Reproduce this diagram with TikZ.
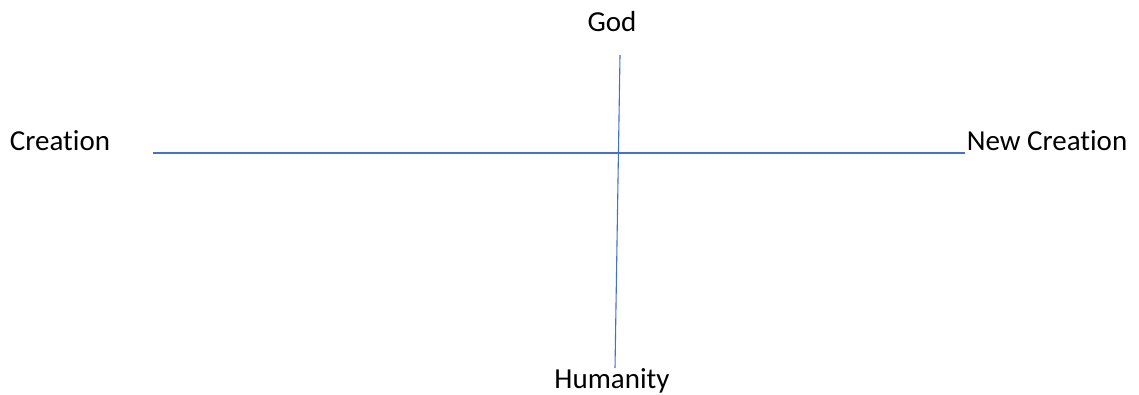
\documentclass[tikz,border=0pt]{standalone}
\usepackage{fontspec}
\setmainfont[Ligatures=NoCommon]{Carlito}
\definecolor{axisblue}{HTML}{4472C4}
\begin{document}
\begin{tikzpicture}[x=1pt,y=-1pt,
  lbl/.style={font=\fontsize{29}{34}\selectfont, inner sep=0pt, anchor=base},
  axis/.style={draw=axisblue, line width=1.1pt}]
\useasboundingbox (0,0) rectangle (1139,394);
\node[lbl] (god) at (612,31) {God};
\node[lbl] (hum) at (612,388) {Humanity};
\node[lbl] (cre) at (60,150) {Creation};
\node[lbl] (newc) at (1047,150) {New Creation};
\coordinate (vt) at (620,55);
\coordinate (vb) at (615,368);
\coordinate (hl) at (153,153);
\coordinate (hr) at (965,153);
\draw[axis] (vt) -- (vb);
\draw[axis] (hl) -- (hr);
\end{tikzpicture}
\end{document}
